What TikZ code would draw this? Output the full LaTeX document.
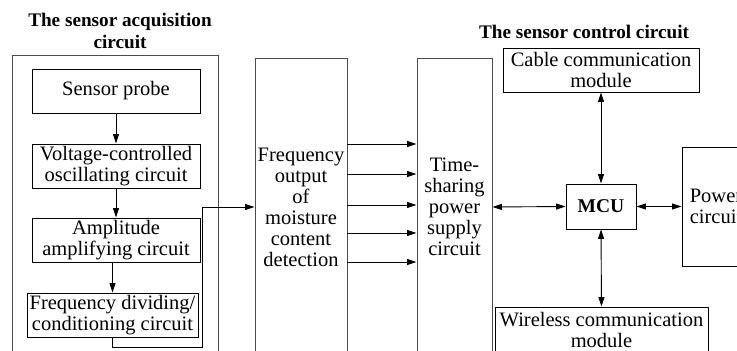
\documentclass[tikz,border=0pt]{standalone}
\usepackage{fontspec}
\setmainfont{Liberation Serif}
\usetikzlibrary{arrows.meta}

\begin{document}
\begin{tikzpicture}[x=1pt, y=-1pt,
	box/.style={draw, line width=0.9pt, inner sep=0pt, align=center, font=\fontsize{20.5}{21}\selectfont},
	frame/.style={draw=black!70, line width=0.9pt, inner sep=0pt, align=center, font=\fontsize{20.5}{21}\selectfont},
	head/.style={align=center, font=\fontsize{19.2}{22.5}\selectfont\bfseries},
	arr/.style={-{Triangle[length=9.5pt,width=6pt]}, line width=0.9pt},
	dbl/.style={{Triangle[length=9.5pt,width=6pt]}-{Triangle[length=9.5pt,width=6pt]}, line width=0.9pt}]
	\useasboundingbox (0,0) rectangle (737,351);
	\clip (0,0) rectangle (737,351);
	\node[head] (acqhead) at (120,31) {The sensor acquisition\\circuit};
	\node[head] (ctrlhead) at (584,32) {The sensor control circuit};
	\node[frame, minimum width=206pt, minimum height=310pt] (acq) at (115,210) {};
	\node[box, minimum width=168pt, minimum height=44pt] (probe) at (116,91) {Sensor probe};
	\node[box, minimum width=168pt, minimum height=44pt] (vco) at (116,166) {Voltage-controlled\\oscillating circuit};
	\node[box, minimum width=168pt, minimum height=44pt] (amp) at (116,240) {Amplitude\\amplifying circuit};
	\node[box, minimum width=171pt, minimum height=44pt] (div) at (112.5,315) {Frequency dividing/\\conditioning circuit};
	\node[frame, minimum width=92pt, minimum height=298pt] (fo) at (301,207) {Frequency\\output\\of\\moisture\\content\\detection};
	\node[frame, minimum width=75pt, minimum height=298pt] (ts) at (454.5,207) {Time-\\sharing\\power\\supply\\circuit};
	\node[box, minimum width=196pt, minimum height=44pt] (cable) at (601,70) {Cable communication\\module};
	\node[box, minimum width=70pt, minimum height=45pt, font=\fontsize{19.5}{21}\selectfont\bfseries] (mcu) at (601,206.5) {MCU};
	\node[box, minimum width=68pt, minimum height=119pt] (pw) at (716,206.5) {Power\\circuit};
	\node[box, minimum width=213pt, minimum height=46pt] (wl) at (601.5,330) {Wireless communication\\module};
	\coordinate (bend) at (202,347);
	\foreach \a/\b in {probe/vco,vco/amp,amp/div} \draw[arr] (\b.north |- \a.south) -- (\b.north);
	\draw[arr] (div.south) |- (bend) |- (fo.west);
	\foreach \y in {144,174,205,233,262} \draw[arr] (fo.east |- 0,\y) -- (ts.west |- 0,\y);
	\draw[dbl] (ts.east) -- (mcu.west);
	\draw[dbl] (mcu.east) -- (pw.west);
	\draw[dbl] (cable.south) -- (mcu.north);
	\draw[dbl] (mcu.south) -- (wl.north);
\end{tikzpicture}
\end{document}
